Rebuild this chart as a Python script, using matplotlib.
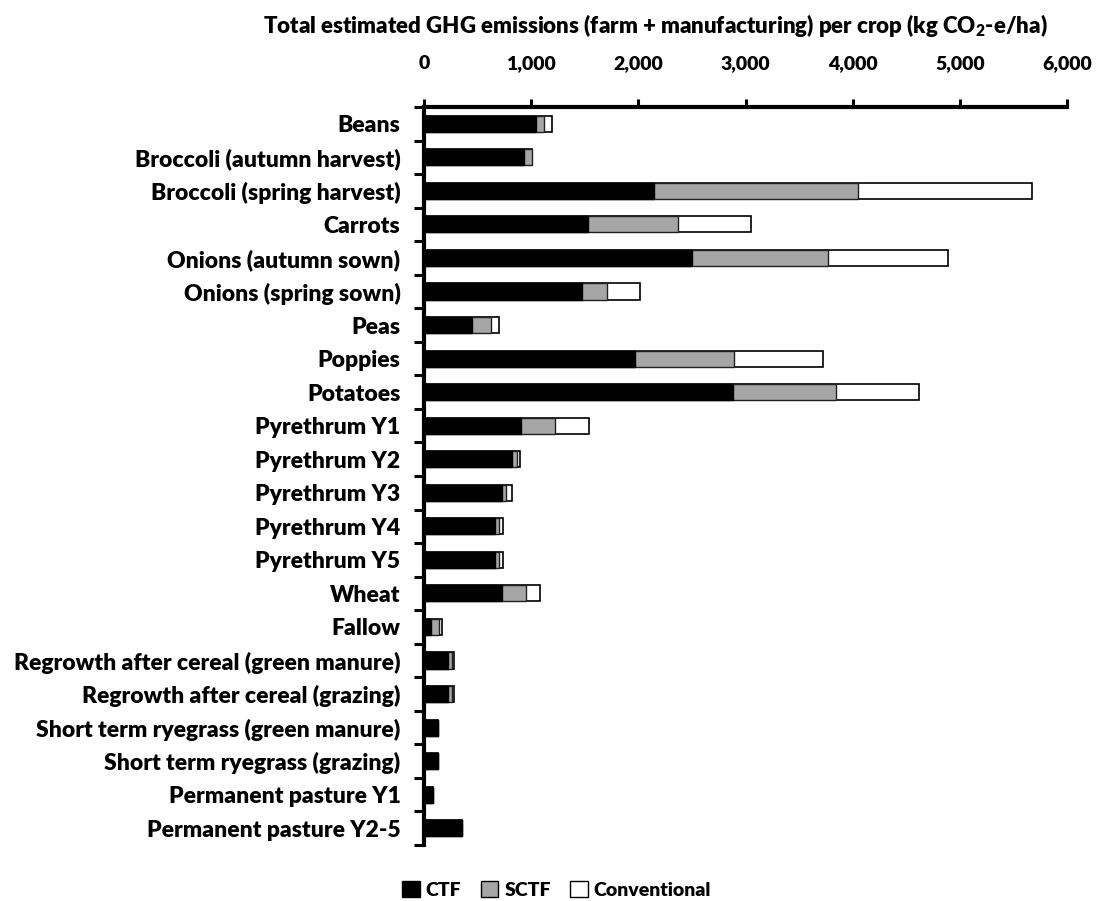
import matplotlib
matplotlib.use("Agg")
import matplotlib.pyplot as plt
from matplotlib.patches import Patch
import numpy as np

plt.rcParams['font.family'] = ['Lato', 'DejaVu Sans']
plt.rcParams['font.weight'] = 'heavy'
plt.rcParams['mathtext.fontset'] = 'custom'
plt.rcParams['mathtext.rm'] = 'Lato:heavy'
plt.rcParams['mathtext.it'] = 'Lato:heavy'
plt.rcParams['mathtext.bf'] = 'Lato:heavy'

crops = [
    "Beans",
    "Broccoli (autumn harvest)",
    "Broccoli (spring harvest)",
    "Carrots",
    "Onions (autumn sown)",
    "Onions (spring sown)",
    "Peas",
    "Poppies",
    "Potatoes",
    "Pyrethrum Y1",
    "Pyrethrum Y2",
    "Pyrethrum Y3",
    "Pyrethrum Y4",
    "Pyrethrum Y5",
    "Wheat",
    "Fallow",
    "Regrowth after cereal (green manure)",
    "Regrowth after cereal (grazing)",
    "Short term ryegrass (green manure)",
    "Short term ryegrass (grazing)",
    "Permanent pasture Y1",
    "Permanent pasture Y2-5",
]

# Total emissions per crop under each farming system (kg CO2-e/ha)
ctf = [1045, 937, 2143, 1530, 2500, 1471, 447, 1970, 2881, 902, 820, 728,
       665, 665, 728, 65, 224, 224, 130, 130, 85, 352]
sctf = [1118, 1008, 4047, 2370, 3769, 1711, 623, 2889, 3847, 1224, 870, 768,
        703, 703, 955, 137, 258, 258, 130, 130, 85, 352]
conventional = [1197, 1008, 5672, 3050, 4887, 2013, 702, 3725, 4620, 1542, 898, 818,
                740, 740, 1085, 171, 283, 283, 130, 130, 85, 352]

xticks = [0, 1000, 2000, 3000, 4000, 5000, 6000]
xtick_labels = ["0", "1,000", "2,000", "3,000", "4,000", "5,000", "6,000"]

title = "Total estimated GHG emissions (farm + manufacturing) per crop (kg CO$_2$-e/ha)"
series_names = ["CTF", "SCTF", "Conventional"]
colors = ["#000000", "#A6A6A6", "#FFFFFF"]

fig = plt.figure(figsize=(10.98, 9.01), dpi=100)
ax = fig.add_axes([0.3862, 0.0622, 0.5856, 0.8190])

y = np.arange(len(crops))
h = 0.48
# Wider totals drawn first so each system's extra emissions show as a segment
ax.barh(y, conventional, height=h, color=colors[2], edgecolor="black", linewidth=1.2, zorder=2)
ax.barh(y, sctf, height=h, color=colors[1], edgecolor="#202020", linewidth=1.0, zorder=3)
ax.barh(y, ctf, height=h, color=colors[0], edgecolor="black", linewidth=1.0, zorder=4)

ax.set_xlim(0, 6000)
ax.set_ylim(len(crops) - 0.5, -0.5)

ax.xaxis.tick_top()
ax.set_xticks(xticks)
ax.set_xticklabels(xtick_labels, fontsize=14, fontweight="heavy")
ax.tick_params(axis="x", direction="out", length=6, width=2.2, pad=19)

ax.set_yticks(y)
ax.set_yticklabels(crops, fontsize=16.5, fontweight="heavy")
ax.set_yticks(np.arange(len(crops) + 1) - 0.5, minor=True)
ax.tick_params(axis="y", which="major", length=0, pad=17)
ax.tick_params(axis="y", which="minor", direction="out", length=7, width=2.2)

for side in ["right", "bottom"]:
    ax.spines[side].set_visible(False)
for side in ["top", "left"]:
    ax.spines[side].set_linewidth(3)

fig.text(0.5966, 0.972, title, ha="center", va="center", fontsize=16, fontweight="heavy")

handles = [Patch(facecolor=c, edgecolor="black", linewidth=1.0) for c in colors]
fig.legend(handles, series_names, loc="center", bbox_to_anchor=(0.507, 0.012), ncol=3,
           frameon=False, handlelength=0.9, handleheight=0.9,
           handletextpad=0.3, columnspacing=1.0, prop={"weight": "heavy", "size": 14})

fig.savefig("out.png", dpi=100)
